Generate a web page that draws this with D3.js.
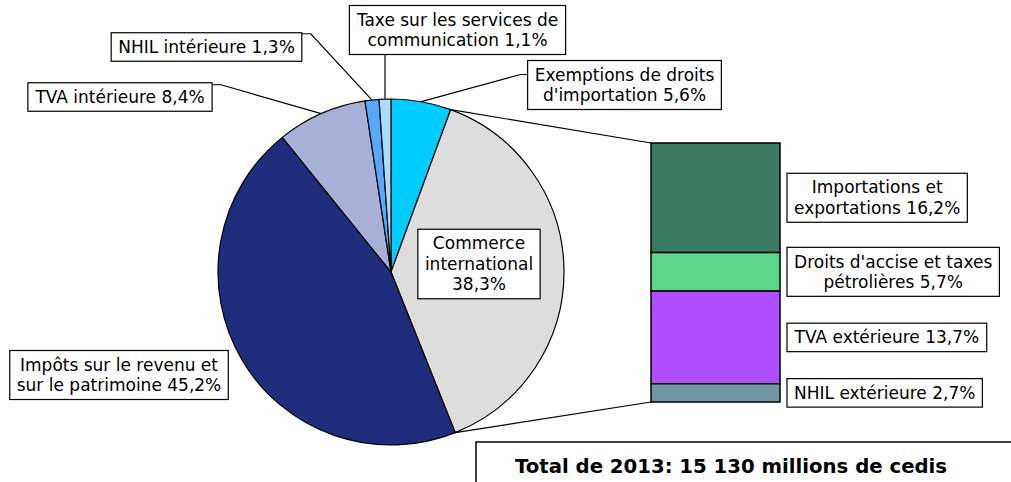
<!DOCTYPE html>
<html>
<head>
<meta charset="utf-8">
<script src="https://cdn.jsdelivr.net/npm/d3@7"></script>
<style>
  html, body { margin: 0; padding: 0; background: #fff; }
  svg { display: block; font-family: "DejaVu Sans", Verdana, sans-serif; }
</style>
</head>
<body>
<div id="chart"></div>
<script>
// pie slices, clockwise from 12 o'clock
const pieNames = [
  "Exemptions de droits\nd'importation",
  "Commerce\ninternational\n",
  "Impôts sur le revenu et\nsur le patrimoine",
  "TVA intérieure",
  "NHIL intérieure",
  "Taxe sur les services de\ncommunication"
];
const pieValues = [5.6, 38.3, 45.2, 8.4, 1.3, 1.1];
const pieColors = ["#00ccff", "#dddddd", "#202c7c", "#a8b0d8", "#55aaff", "#aadcff"];

// breakdown of "Commerce international", top to bottom
const barNames = [
  "Importations et\nexportations",
  "Droits d'accise et taxes\npétrolières",
  "TVA extérieure",
  "NHIL extérieure"
];
const barValues = [16.2, 5.7, 13.7, 2.7];
const barColors = ["#3a7a62", "#5dd38c", "#b04eff", "#6f96a0"];

const totalText = "Total de 2013: 15 130 millions de cedis";

const width = 1011,
  height = 482;
const cx = 391,
  cy = 272,
  radius = 173;
const expanded = 1; // index of the slice that is broken down in the bar
const barX = 651,
  barW = 129,
  barTop = 143,
  barBottom = 402;
const fontSize = 17,
  lineH = 20.5,
  padX = 7,
  padY = 4;

// label box centres for the pie slices, and where the leader meets the box
const pieLabelPos = [
  { x: 624.5, y: 85, dy: 14 },
  { x: 479, y: 264, dy: null },
  { x: 119, y: 375, dy: null },
  { x: 120, y: 97, dy: 2 },
  { x: 206.5, y: 47, dy: 1 },
  { x: 457.5, y: 30, dy: null }
];

const fmt = v => v.toFixed(1).replace('.', ',') + '%';
const labelLines = (name, v) => (name.endsWith('\n') ? name + fmt(v) : name + ' ' + fmt(v)).split('\n');

const svg = d3.select('#chart').append('svg')
  .attr('width', width)
  .attr('height', height)
  .attr('viewBox', [0, 0, width, height]);

const pie = d3.pie().sort(null).value(d => d)(pieValues);
const arc = d3.arc().innerRadius(0).outerRadius(radius);
const onArc = a => [cx + radius * Math.sin(a), cy - radius * Math.cos(a)];

const gPie = svg.append('g').attr('transform', `translate(${cx},${cy})`);
gPie.selectAll('path')
  .data(pie)
  .join('path')
  .attr('d', arc)
  .attr('fill', (d, i) => pieColors[i])
  .attr('stroke', '#000')
  .attr('stroke-width', 1.2)
  .attr('stroke-linejoin', 'round');

// stacked bar
const total = d3.sum(barValues);
const y = d3.scaleLinear().domain([0, total]).range([barTop, barBottom]);
const cum = [0, ...d3.cumsum(barValues)];

// connector lines from the expanded slice to the bar
const sl = pie[expanded];
const p0 = onArc(sl.startAngle),
  p1 = onArc(sl.endAngle);
svg.append('g')
  .attr('stroke', '#000')
  .attr('stroke-width', 1.2)
  .selectAll('line')
  .data([[p0, [barX, y(0)]], [p1, [barX, y(total)]]])
  .join('line')
  .attr('x1', d => d[0][0])
  .attr('y1', d => d[0][1])
  .attr('x2', d => d[1][0])
  .attr('y2', d => d[1][1]);

svg.append('g')
  .selectAll('rect')
  .data(barValues)
  .join('rect')
  .attr('x', barX)
  .attr('y', (d, i) => y(cum[i]))
  .attr('width', barW)
  .attr('height', d => y(d) - y(0))
  .attr('fill', (d, i) => barColors[i])
  .attr('stroke', '#000')
  .attr('stroke-width', 1.5);

// boxed labels
function boxLabel(lines, { x, y, left }) {
  const g = svg.append('g');
  const rect = g.append('rect')
    .attr('fill', '#fff')
    .attr('stroke', '#000')
    .attr('stroke-width', 1.2);
  const t = g.append('text')
    .attr('font-size', fontSize)
    .attr('text-anchor', 'middle')
    .attr('fill', '#000');
  const n = lines.length;
  t.selectAll('tspan')
    .data(lines)
    .join('tspan')
    .attr('x', 0)
    .attr('y', (d, i) => (i - (n - 1) / 2) * lineH)
    .attr('dy', '0.35em')
    .text(d => d);
  const bb = t.node().getBBox();
  const w = bb.width + 2 * padX,
    h = n * lineH + 2 * padY;
  const bx = left != null ? left : x - w / 2;
  const by = y - h / 2;
  rect.attr('x', bx).attr('y', by).attr('width', w).attr('height', h);
  t.attr('transform', `translate(${bx + w / 2},${y})`);
  return { x0: bx, x1: bx + w, y0: by, y1: by + h };
}

const leaders = svg.append('g')
  .attr('fill', 'none')
  .attr('stroke', '#000')
  .attr('stroke-width', 1.2);

pie.forEach((d, i) => {
  const pos = pieLabelPos[i];
  const box = boxLabel(labelLines(pieNames[i], d.data), pos);
  if (i === expanded || i === 2) return;
  const p = onArc((d.startAngle + d.endAngle) / 2);
  let pts;
  if (p[0] >= box.x0 && p[0] <= box.x1) {
    pts = [p, [p[0], box.y1]];
  } else if (p[0] > box.x1) {
    const ay = box.y0 + pos.dy;
    pts = [p, [box.x1 + 9, ay], [box.x1, ay]];
  } else {
    const ay = box.y0 + pos.dy;
    pts = [p, [box.x0 - 7, ay], [box.x0, ay]];
  }
  leaders.append('path').attr('d', d3.line()(pts));
});

barValues.forEach((v, i) => {
  boxLabel(labelLines(barNames[i], v), { x: 0, y: (y(cum[i]) + y(cum[i + 1])) / 2, left: barX + barW + 7 });
});

// total box at the bottom right
svg.append('rect')
  .attr('x', 476)
  .attr('y', 442)
  .attr('width', 600)
  .attr('height', 80)
  .attr('fill', '#fff')
  .attr('stroke', '#000')
  .attr('stroke-width', 1.5);
svg.append('text')
  .attr('x', 731)
  .attr('y', 466)
  .attr('dy', '0.35em')
  .attr('text-anchor', 'middle')
  .attr('font-size', 19.7)
  .attr('font-weight', 'bold')
  .text(totalText);
</script>
</body>
</html>
